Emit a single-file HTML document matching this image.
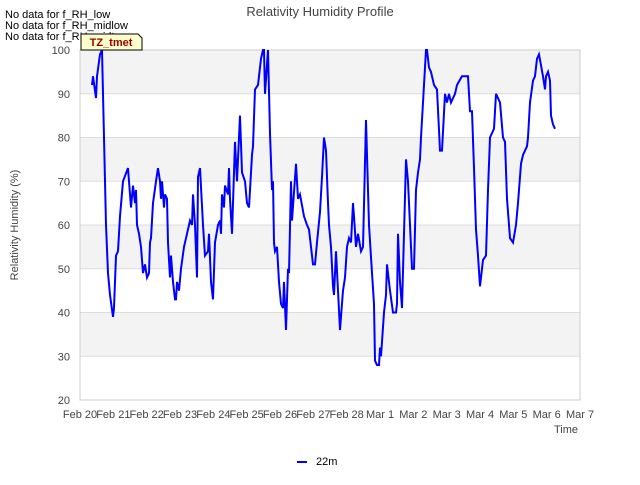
<!DOCTYPE html>
<html><head><meta charset="utf-8"><style>
body{margin:0;background:#fff;font-family:"Liberation Sans",sans-serif}
svg text{font-family:"Liberation Sans",sans-serif}
</style></head><body>
<svg id="c" width="640" height="480">
<g id="bands"></g><g id="grid"></g>
<rect x="80" y="50" width="500" height="350" fill="none" stroke="#ccc"/>
<g id="yt"></g><g id="xt"></g>
<path id="line" fill="none" stroke="#0000ff" stroke-width="2"/>
<text x="320" y="16" text-anchor="middle" font-size="13" fill="#444">Relativity Humidity Profile</text>
<text transform="translate(18,225) rotate(-90)" text-anchor="middle" font-size="11" fill="#444">Relativity Humidity (%)</text>
<text x="578" y="433" text-anchor="end" font-size="11" fill="#444">Time</text>
<text x="5" y="18" font-size="11" fill="#000">No data for f_RH_low</text>
<text x="5" y="29" font-size="11" fill="#000">No data for f_RH_midlow</text>
<text x="5" y="40" font-size="11" fill="#000">No data for f_RH_midtop</text>
<g><path d="M81,34 L138,34 L142,38 L142,50 L81,50 Z" fill="#ffffcc" stroke="#000"/>
<text x="111" y="46" text-anchor="middle" font-size="11" font-weight="bold" fill="#990000">TZ_tmet</text></g>
<g><line x1="297" y1="462" x2="307" y2="462" stroke="#0000ff" stroke-width="2"/>
<text x="316" y="465" font-size="11" fill="#000">22m</text></g>
</svg>
<script>
const yTicks=[20,30,40,50,60,70,80,90,100];
const xTickLabels=["Feb 20","Feb 21","Feb 22","Feb 23","Feb 24","Feb 25","Feb 26","Feb 27","Feb 28","Mar 1","Mar 2","Mar 3","Mar 4","Mar 5","Mar 6","Mar 7"];
const days=[0.36,0.39,0.48,0.51,0.60,0.66,0.72,0.78,0.84,0.90,0.99,1.02,1.08,1.14,1.20,1.29,1.44,1.53,1.59,1.65,1.68,1.71,1.77,1.83,1.89,1.95,2.01,2.07,2.10,2.13,2.19,2.28,2.34,2.40,2.43,2.46,2.52,2.55,2.61,2.64,2.70,2.73,2.79,2.85,2.88,2.91,2.97,3.03,3.12,3.21,3.30,3.36,3.39,3.45,3.51,3.54,3.60,3.69,3.75,3.84,3.87,3.93,3.99,4.05,4.14,4.20,4.23,4.26,4.32,4.35,4.44,4.47,4.50,4.56,4.65,4.71,4.80,4.86,4.95,5.01,5.07,5.16,5.19,5.25,5.34,5.43,5.49,5.52,5.55,5.64,5.70,5.76,5.79,5.82,5.85,5.91,5.97,6.03,6.09,6.12,6.18,6.24,6.27,6.33,6.36,6.48,6.54,6.60,6.72,6.81,6.87,6.99,7.05,7.11,7.20,7.26,7.32,7.38,7.44,7.47,7.53,7.59,7.62,7.68,7.80,7.89,7.95,8.01,8.07,8.13,8.19,8.22,8.28,8.34,8.43,8.49,8.58,8.67,8.76,8.82,8.85,8.91,8.97,9.00,9.03,9.12,9.18,9.21,9.27,9.30,9.39,9.48,9.51,9.54,9.60,9.66,9.78,9.84,9.90,9.96,10.02,10.08,10.14,10.20,10.23,10.29,10.38,10.41,10.47,10.53,10.62,10.71,10.80,10.86,10.95,11.01,11.07,11.13,11.25,11.31,11.46,11.64,11.70,11.76,11.82,11.88,11.94,12.00,12.09,12.18,12.24,12.30,12.36,12.42,12.48,12.60,12.69,12.75,12.81,12.90,12.99,13.08,13.14,13.23,13.29,13.41,13.44,13.50,13.59,13.65,13.71,13.77,13.89,13.95,13.98,14.04,14.10,14.13,14.19,14.25];
const rh=[92,94,89,94,99,100,80,60,49,44,39,41,53,54,62,70,73,64,69,65,68,60,58,55,49,51,48,49,56,57,65,70,73,70,66,70,64,67,66,56,48,53,47,43,43,47,45,50,55,58,61,60,67,60,48,71,73,60,53,54,58,47,43,56,60,61,58,67,64,69,67,73,66,58,79,70,85,72,70,65,64,76,78,91,92,98,100,100,90,100,81,68,70,56,54,55,47,42,41,47,36,50,49,70,61,74,66,67,62,60,59,51,51,56,63,71,80,77,65,60,55,46,44,54,36,45,48,55,57,56,65,62,55,58,54,55,84,60,49,42,29,28,28,32,30,40,44,51,47,45,40,40,42,58,47,41,75,70,60,50,50,68,72,75,80,88,100,100,96,95,92,91,77,77,90,88,90,88,90,92,94,94,86,86,73,59,53,46,52,53,68,80,81,82,90,88,80,79,66,57,56,60,65,74,76,78,80,88,93,94,98,99,94,91,94,95,93,85,83,82];
const NS="http://www.w3.org/2000/svg";
const X0=80,X1=580,Y0=400,Y1=50,DMAX=15,VMIN=20,VMAX=100;
const xs=d=>X0+(X1-X0)*d/DMAX, ys=v=>Y0-(Y0-Y1)*(v-VMIN)/(VMAX-VMIN);
function mk(t,a,p){const e=document.createElementNS(NS,t);for(const k in a)e.setAttribute(k,a[k]);p.appendChild(e);return e;}
const bands=document.getElementById('bands'),grid=document.getElementById('grid'),yt=document.getElementById('yt'),xt=document.getElementById('xt');
for(let i=0;i<yTicks.length-1;i++){
 if(i%2==1){const r=mk('rect',{x:X0,y:ys(yTicks[i+1]),width:X1-X0,height:ys(yTicks[i])-ys(yTicks[i+1]),fill:'#f3f3f3'},bands);
 
 }
}
yTicks.forEach(v=>{
 const l=mk('line',{x1:X0,x2:X1,y1:ys(v),y2:ys(v),stroke:'#ddd'},grid);
 
 
 const t=mk('text',{x:X0-10,y:ys(v)+4,'text-anchor':'end','font-size':'11',fill:'#444'},yt);t.textContent=v;
 
 
});
xTickLabels.forEach((s,i)=>{
 const t=mk('text',{x:xs(i),y:418,'text-anchor':'middle','font-size':'11',fill:'#444'},xt);t.textContent=s;
 
 
});
document.getElementById('line').setAttribute('d',days.map((d,i)=>(i?'L':'M')+xs(d).toFixed(1)+','+ys(rh[i]).toFixed(1)).join(''));
</script>
</body></html>
